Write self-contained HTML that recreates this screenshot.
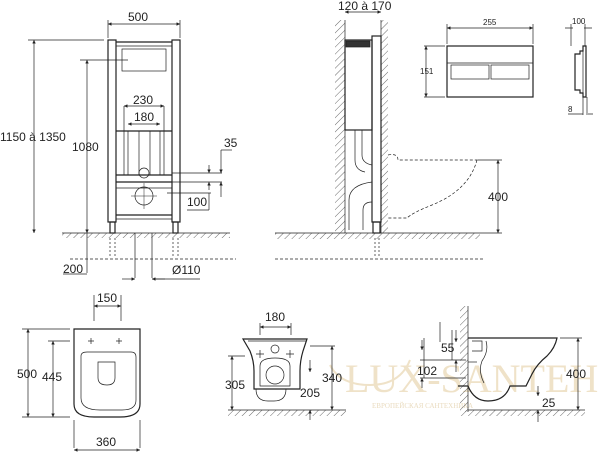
<!DOCTYPE html>
<html><head><meta charset="utf-8"><style>
html,body{margin:0;padding:0;background:#fff;width:600px;height:455px;overflow:hidden}
svg{display:block}
text{font-family:"Liberation Sans",sans-serif}
</style></head><body>
<svg width="600" height="455" viewBox="0 0 600 455" xmlns="http://www.w3.org/2000/svg">
<defs>
<pattern id="h" width="5" height="5" patternUnits="userSpaceOnUse" patternTransform="rotate(45)">
<line x1="0" y1="0" x2="0" y2="5" stroke="#444" stroke-width="0.8"/></pattern>
<marker id="a" viewBox="0 0 6 6" refX="6" refY="3" markerWidth="5" markerHeight="5" orient="auto-start-reverse"><path d="M0,0L6,3L0,6z" fill="#222"/></marker>
</defs>
<!-- watermark -->
<text x="345" y="392" font-size="40" style="font-family:'Liberation Serif',serif;fill:#efe2c8">LUX-SANTEH</text>
<text x="372" y="408" font-size="7" style="font-family:'Liberation Serif',serif;fill:#eadcc0">ЕВРОПЕЙСКАЯ САНТЕХНИКА</text>
<path d="M330,365 q10,20 40,20 q30,0 40,-25" stroke="#efe2c8" stroke-width="2" fill="none"/>
<g stroke="#222" fill="none" stroke-width="0.7">
<!-- FRAME FRONT -->
<rect x="62" y="233" width="168" height="5" fill="url(#h)" stroke="none"/>
<line x1="62" y1="233" x2="230" y2="233"/>
<line x1="70" y1="259" x2="236" y2="259" stroke-dasharray="3,2"/>
<rect x="108" y="40" width="8" height="182" stroke-width="1.2"/>
<rect x="172" y="40" width="8" height="182" stroke-width="1.2"/>
<line x1="116" y1="42" x2="172" y2="42" stroke-width="1.2"/><line x1="116" y1="46" x2="172" y2="46"/>
<rect x="122" y="49" width="44" height="22"/>
<line x1="116" y1="131" x2="172" y2="131" stroke-width="1.2"/>
<line x1="116" y1="175" x2="172" y2="175" stroke-width="1.2"/>
<line x1="116" y1="182" x2="172" y2="182" stroke-width="1.2"/>
<line x1="116" y1="188" x2="172" y2="188"/>
<line x1="116" y1="215" x2="172" y2="215" stroke-width="1.2"/><line x1="116" y1="219" x2="172" y2="219"/>
<rect x="110" y="222" width="5" height="11" stroke-width="1.2"/><rect x="173" y="222" width="5" height="11" stroke-width="1.2"/>
<path d="M110,238v20M115,238v20M173,238v20M178,238v20" stroke-dasharray="2,2"/>
<line x1="128" y1="131" x2="128" y2="175"/><line x1="160" y1="131" x2="160" y2="175"/>
<line x1="124" y1="106" x2="124" y2="175"/><line x1="164" y1="106" x2="164" y2="175"/>
<line x1="139" y1="131" x2="139" y2="175"/><line x1="150" y1="131" x2="150" y2="175"/>
<circle cx="144" cy="173" r="5"/><circle cx="144" cy="196" r="9"/>
<path d="M131,196h26M144,183v26" stroke-width="0.5"/>
<path d="M135,233v45M152,233v45"/>
<line x1="108" y1="38" x2="108" y2="20"/><line x1="180" y1="38" x2="180" y2="20"/>
<line x1="108" y1="24" x2="180" y2="24" marker-start="url(#a)" marker-end="url(#a)"/>
<line x1="28" y1="40" x2="104" y2="40"/><line x1="34" y1="40" x2="34" y2="233" marker-start="url(#a)" marker-end="url(#a)"/>
<line x1="80" y1="60" x2="128" y2="60"/><line x1="87" y1="60" x2="87" y2="233" marker-start="url(#a)" marker-end="url(#a)"/>
<line x1="87" y1="233" x2="87" y2="273" /><line x1="63" y1="274" x2="87" y2="274"/>
<line x1="124" y1="106" x2="164" y2="106" marker-start="url(#a)" marker-end="url(#a)"/>
<line x1="128" y1="124" x2="160" y2="124" marker-start="url(#a)" marker-end="url(#a)"/>
<path d="M172,173h50M172,182h50M167,193h44"/>
<line x1="209" y1="165" x2="209" y2="173" marker-end="url(#a)"/><line x1="209" y1="190" x2="209" y2="182" marker-end="url(#a)"/>
<line x1="221" y1="150" x2="221" y2="173" marker-end="url(#a)"/><line x1="221" y1="197" x2="221" y2="182" marker-end="url(#a)"/>
<line x1="221" y1="150" x2="232" y2="150"/>
<line x1="209" y1="193" x2="209" y2="210"/><line x1="187" y1="210" x2="209" y2="210"/>
<line x1="122" y1="279" x2="135" y2="279" marker-end="url(#a)"/><line x1="165" y1="279" x2="152" y2="279" marker-end="url(#a)"/>
<line x1="152" y1="279" x2="200" y2="279"/>
</g>
<g font-size="12" fill="#222">
<text x="128" y="21">500</text>
<text x="0" y="141">1150 à 1350</text>
<text x="72" y="151">1080</text>
<text x="133" y="104">230</text>
<text x="134" y="121">180</text>
<text x="224" y="147">35</text>
<text x="187" y="206">100</text>
<text x="63" y="273">200</text>
<text x="172" y="274">Ø110</text>
</g>

<!-- SIDE VIEW -->
<g stroke="#222" fill="none" stroke-width="0.7">
<rect x="275" y="233" width="205" height="6" fill="url(#h)" stroke="none"/>
<line x1="275" y1="233" x2="480" y2="233"/>
<line x1="275" y1="259" x2="484" y2="259" stroke-dasharray="3,2"/>
<rect x="335" y="20" width="10" height="213" fill="url(#h)" stroke="none"/>
<line x1="345" y1="20" x2="345" y2="233"/>
<rect x="381" y="20" width="7" height="213" fill="url(#h)" stroke="none"/>
<line x1="381" y1="20" x2="381" y2="233"/>
<rect x="345" y="40" width="27" height="90" stroke-width="1.2"/>
<rect x="346" y="41" width="24" height="6" fill="#333"/>
<rect x="372" y="36" width="9" height="186" stroke-width="1.2"/>
<rect x="373" y="222" width="7" height="11" stroke-width="1.2"/>
<path d="M355,130v30q0,10 10,12M362,130v25q0,8 10,10M349,230v-30q0,-15 23,-18M363,230v-20q0,-8 9,-8"/>
<path d="M375,238v20M379,238v20" stroke-dasharray="2,2"/>
<line x1="345" y1="12" x2="381" y2="12" marker-start="url(#a)" marker-end="url(#a)"/>
<path d="M388,155q10,-2 10,5h80 M477,160q-8,30 -45,45q-20,8 -25,13h-19" stroke-dasharray="3,2"/>
<line x1="478" y1="160" x2="502" y2="160"/><line x1="480" y1="233" x2="502" y2="233"/>
<line x1="498" y1="160" x2="498" y2="233" marker-start="url(#a)" marker-end="url(#a)"/>
<!-- plate -->
<rect x="447" y="46" width="86" height="51" stroke-width="1.2"/>
<line x1="447" y1="63" x2="533" y2="63"/>
<rect x="451" y="65" width="38" height="14"/><rect x="491" y="65" width="38" height="14"/>
<line x1="447" y1="44" x2="447" y2="24"/><line x1="533" y1="44" x2="533" y2="24"/>
<line x1="447" y1="28" x2="533" y2="28" marker-start="url(#a)" marker-end="url(#a)"/>
<line x1="424" y1="46" x2="445" y2="46"/><line x1="424" y1="97" x2="445" y2="97"/>
<line x1="426" y1="46" x2="426" y2="97" marker-start="url(#a)" marker-end="url(#a)"/>
<path d="M586,46v51h-3v-4h-3v-3h-5v-36h5v-3h3v-5z" stroke-width="1.2"/>
<line x1="583" y1="46" x2="583" y2="97"/>
<path d="M571,24v22M585,24v22M565,28h8M584,28h8M583,97v18M587,97v18M568,114h15M588,114h5"/>
</g>
<g font-size="12" fill="#222">
<text x="338" y="10">120 à 170</text>
<text x="488" y="201">400</text>
</g>
<g font-size="8" fill="#222">
<text x="483" y="25">255</text>
<text x="420" y="74">151</text>
<text x="572" y="24">100</text>
<text x="568" y="112">8</text>
</g>

<!-- TOP VIEW BOWL -->
<g stroke="#222" fill="none" stroke-width="0.7">
<path d="M74,329h66v75q0,13 -20,13h-26q-20,0 -20,-13z" stroke-width="1.2"/>
<path d="M81,356q0,-4 6,-4h44q5,0 5,5v43q0,10 -14,10h-22q-19,0 -19,-12z"/>
<path d="M98,362h17v16q0,7 -8,7q-9,0 -9,-7z"/>
<path d="M91,338v6M88,341h6M119,338v6M116,341h6"/>
<path d="M94,295v26M121,295v26"/>
<line x1="94" y1="306" x2="121" y2="306" marker-start="url(#a)" marker-end="url(#a)"/>
<line x1="22" y1="329" x2="70" y2="329"/><line x1="22" y1="417" x2="70" y2="417"/>
<line x1="28" y1="329" x2="28" y2="417" marker-start="url(#a)" marker-end="url(#a)"/>
<line x1="48" y1="341" x2="70" y2="341"/>
<line x1="53" y1="341" x2="53" y2="417" marker-start="url(#a)" marker-end="url(#a)"/>
<path d="M74,420v28M140,420v28"/>
<line x1="74" y1="450" x2="140" y2="450" marker-start="url(#a)" marker-end="url(#a)"/>
</g>
<g font-size="12" fill="#222">
<text x="97" y="302">150</text>
<text x="17" y="378">500</text>
<text x="42" y="381">445</text>
<text x="96" y="446">360</text>
</g>

<!-- FRONT VIEW BOWL -->
<g stroke="#222" fill="none" stroke-width="0.7">
<rect x="228" y="410" width="118" height="6" fill="url(#h)" stroke="none"/>
<line x1="228" y1="410" x2="346" y2="410"/>
<path d="M243,339h64l-4,12q-3,10 -3,20v18h-46v-18q0,-10 -4,-20z" stroke-width="1.2"/>
<path d="M256,389q0,12 12,12h6q12,0 12,-12"/>
<path d="M248,341h58"/>
<path d="M260,366q0,-8 15,-8q15,0 15,8v20h-30z"/>
<circle cx="275" cy="375" r="9"/><circle cx="275" cy="349" r="4"/>
<path d="M260,350v8M256,354h8M290,350v8M286,354h8"/>
<path d="M260,323v12M291,323v12"/>
<line x1="260" y1="327" x2="291" y2="327" marker-start="url(#a)" marker-end="url(#a)"/>
<line x1="232" y1="356" x2="232" y2="410" marker-start="url(#a)" marker-end="url(#a)"/>
<line x1="228" y1="356" x2="245" y2="356"/>
<line x1="310" y1="346" x2="335" y2="346"/>
<line x1="332" y1="346" x2="332" y2="410" marker-start="url(#a)" marker-end="url(#a)"/>
<line x1="310" y1="360" x2="310" y2="372" marker-end="url(#a)"/>
<line x1="310" y1="420" x2="310" y2="410" marker-end="url(#a)"/>
</g>
<g font-size="12" fill="#222">
<text x="265" y="321">180</text>
<text x="225" y="389">305</text>
<text x="322" y="382">340</text>
<text x="300" y="397">205</text>
</g>

<!-- SIDE BOWL -->
<g stroke="#222" fill="none" stroke-width="0.7">
<rect x="460" y="306" width="8" height="106" fill="url(#h)" stroke="none"/>
<line x1="468" y1="306" x2="468" y2="412"/>
<rect x="460" y="410" width="125" height="6" fill="url(#h)" stroke="none"/>
<line x1="468" y1="410" x2="585" y2="410"/>
<path d="M468,338h89q-2,10 -10,18q-10,8 -15,18l-6,12h-16q-5,15 -22,15q-14,0 -20,-15h-10" stroke-width="1.2"/>
<path d="M472,341h10v10h-10M486,341q3,10 -4,20q-4,10 2,22"/>
<line x1="468" y1="362" x2="477" y2="362"/>
<path d="M440,322v20M452,330v30M424,338v40" />
<line x1="456" y1="330" x2="456" y2="342" marker-end="url(#a)"/>
<line x1="456" y1="372" x2="456" y2="360" marker-end="url(#a)"/>
<line x1="420" y1="360" x2="466" y2="360"/>
<line x1="420" y1="378" x2="466" y2="378"/>
<line x1="422" y1="340" x2="422" y2="350" marker-end="url(#a)"/>
<line x1="422" y1="388" x2="422" y2="378" marker-end="url(#a)"/>
<line x1="560" y1="338" x2="582" y2="338"/>
<line x1="578" y1="338" x2="578" y2="410" marker-start="url(#a)" marker-end="url(#a)"/>
<line x1="538" y1="386" x2="538" y2="396" marker-end="url(#a)"/>
<line x1="538" y1="422" x2="538" y2="410" marker-end="url(#a)"/>
</g>
<g font-size="12" fill="#222">
<text x="441" y="352">55</text>
<text x="417" y="375">102</text>
<text x="566" y="378">400</text>
<text x="542" y="407">25</text>
</g>
</svg>
</body></html>
